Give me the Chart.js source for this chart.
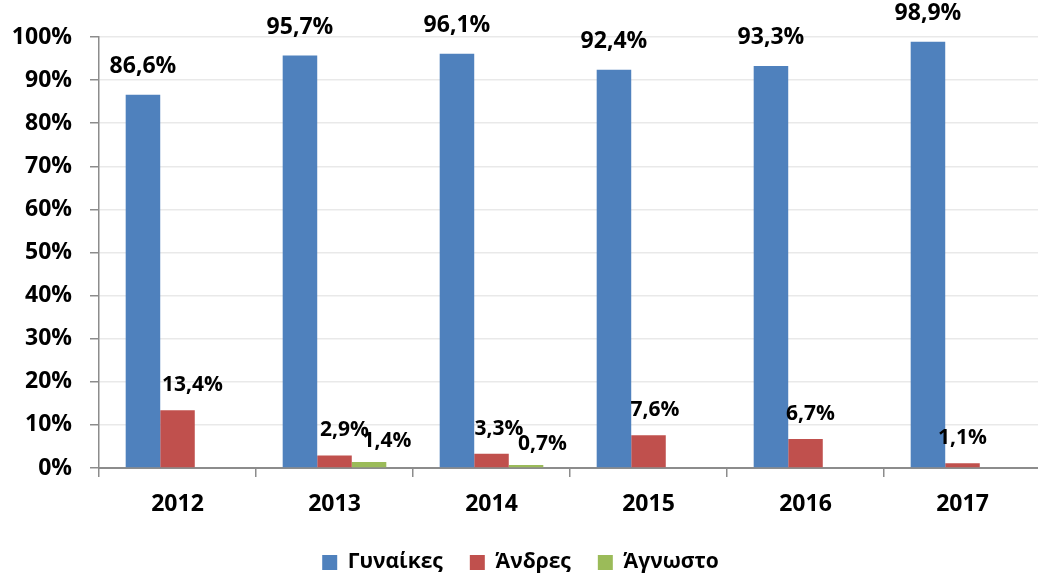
<!DOCTYPE html>
<html>
<head>
<meta charset="utf-8">
<script src="https://cdn.jsdelivr.net/npm/chart.js@4.4.1/dist/chart.umd.min.js"></script>
<style>
html,body{margin:0;padding:0;background:#fff;overflow:hidden;}
#wrap{width:1038px;height:578px;overflow:hidden;position:relative;}
#box{width:1042px;height:583px;position:absolute;left:0;top:0;}
</style>
</head>
<body>
<div id="wrap"><div id="box"><canvas id="c"></canvas></div></div>
<script>
const years = ['2012', '2013', '2014', '2015', '2016', '2017'];
const women = [86.6, 95.7, 96.1, 92.4, 93.3, 98.9];
const men = [13.4, 2.9, 3.3, 7.6, 6.7, 1.1];
const unknown = [null, 1.4, 0.7, null, null, null];
const seriesNames = ['Γυναίκες', 'Άνδρες', 'Άγνωστο'];

const FONT = "'Open Sans', 'Noto Sans', sans-serif";
const fmt = v => v.toFixed(1).replace('.', ',') + '%';

const labelPlugin = {
  id: 'barLabels',
  afterDatasetsDraw(chart) {
    const ctx = chart.ctx;
    ctx.save();
    chart.data.datasets.forEach((ds, i) => {
      const meta = chart.getDatasetMeta(i);
      const st = ds.labelStyle;
      meta.data.forEach((bar, j) => {
        const v = ds.data[j];
        if (v === null || v === undefined) return;
        ctx.font = 'bold ' + st.size + 'px ' + FONT;
        ctx.fillStyle = '#000';
        ctx.textAlign = 'center';
        ctx.textBaseline = 'middle';
        ctx.fillText(fmt(v), bar.x + (st.dx[j] || 0), bar.y + st.dy);
      });
    });
    ctx.restore();
  }
};

new Chart(document.getElementById('c'), {
  type: 'bar',
  data: {
    labels: years,
    datasets: [
      { label: seriesNames[0], data: women, backgroundColor: '#4F81BD',
        labelStyle: { size: 23, dy: -28, dx: [0, 0, 0, 0, 0, 0] } },
      { label: seriesNames[1], data: men, backgroundColor: '#C0504D',
        labelStyle: { size: 21, dy: -25, dx: [15, 10, 7.5, 6.5, 5, 0] } },
      { label: seriesNames[2], data: unknown, backgroundColor: '#9BBB59',
        labelStyle: { size: 21, dy: -21, dx: [0, 18, 16.5, 0, 0, 0] } }
    ]
  },
  options: {
    responsive: true,
    maintainAspectRatio: false,
    animation: false,
    layout: { padding: { top: 37, right: 1, left: 0, bottom: 0 } },
    datasets: { bar: { categoryPercentage: 0.66, barPercentage: 1.0 } },
    plugins: {
      tooltip: { enabled: false },
      legend: {
        position: 'bottom',
        labels: {
          boxWidth: 15, boxHeight: 15, padding: 27, color: '#000',
          font: { family: FONT, size: 21, weight: 'bold' }
        }
      }
    },
    scales: {
      x: {
        afterFit: s => { s.height = 57; },
        grid: { offset: true, drawOnChartArea: false, tickLength: 9, tickColor: '#8c8c8c', lineWidth: 1.5 },
        border: { display: true, color: '#8c8c8c', width: 2 },
        ticks: { color: '#000', padding: 14, font: { family: FONT, size: 23, weight: 'bold' } }
      },
      y: {
        min: 0, max: 100,
        afterFit: s => { s.width = 99; },
        grid: { color: '#e9e9e9', lineWidth: 1.5, tickLength: 9, tickColor: '#8c8c8c' },
        border: { display: true, color: '#8c8c8c', width: 1.5 },
        ticks: { stepSize: 10, color: '#000', padding: 18,
          font: { family: FONT, size: 23, weight: 'bold' },
          callback: v => v + '%' }
      }
    }
  },
  plugins: [labelPlugin]
});
</script>
</body>
</html>
